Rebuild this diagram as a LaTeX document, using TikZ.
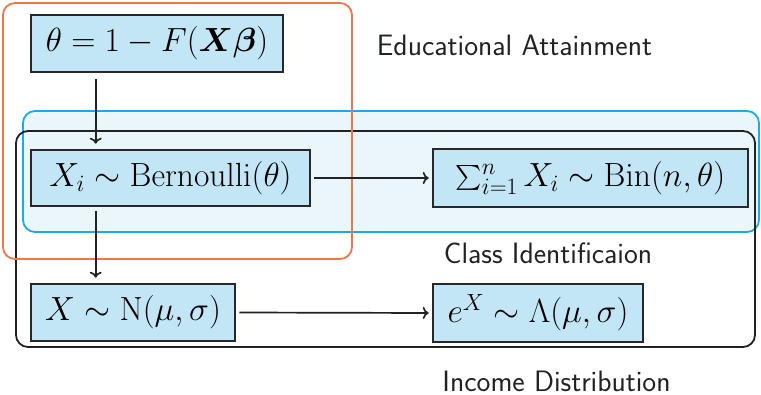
\RequirePackage{fix-cm}
\documentclass[tikz,border=0pt]{standalone}
\usepackage{amsmath,bm}
\usetikzlibrary{arrows.meta}
\definecolor{boxfill}{RGB}{194,230,245}
\definecolor{boxline}{RGB}{40,40,40}
\definecolor{regblue}{RGB}{30,170,230}
\definecolor{regbluefill}{RGB}{234,246,250}
\definecolor{regorange}{RGB}{240,120,72}
\definecolor{regblack}{RGB}{34,34,34}
\begin{document}
\begin{tikzpicture}[x=1pt,y=-1pt,
  dist/.style={draw=boxline, line width=2.6pt, fill=boxfill, inner sep=0pt,
    font=\fontsize{33.5}{40}\selectfont},
  conn/.style={line width=1.7pt, draw=regblack, -{To[length=6pt,width=12pt]}},
  region/.style={line width=1.8pt, rounded corners=12pt},
  lbl/.style={font=\sffamily\fontsize{29.5}{35}\selectfont, text=regblack, inner sep=0pt}]
\useasboundingbox (0,0) rectangle (761,395);
% regions
\draw[region, draw=regblue, fill=regbluefill] (23,111) rectangle (759,232);
\draw[region, draw=regblack] (16,131) rectangle (755,347);
\draw[region, draw=regorange] (3,3) rectangle (352,259);
% distribution boxes
\node[dist, minimum width=252pt, minimum height=57pt] (b1) at (157,43.5) {$\theta = 1 - F(\bm{X\beta})$};
\node[dist, minimum width=279pt, minimum height=56pt] (b2) at (170.5,178) {$X_i \sim \mathrm{Bernoulli}(\theta)$};
\node[dist, minimum width=315pt, minimum height=58pt] (b3) at (590.5,178) {$\sum_{i=1}^{n} X_i \sim \mathrm{Bin}(n,\theta)$};
\node[dist, minimum width=204pt, minimum height=57pt] (b4) at (133,312.5) {$X \sim \mathrm{N}(\mu,\sigma)$};
\node[dist, minimum width=210pt, minimum height=58pt] (b5) at (538,313) {$e^X \sim \Lambda(\mu,\sigma)$};
% labels
\node[lbl] (l1) at (514.5,45) {Educational Attainment};
\node[lbl] (l2) at (548,253) {Class Identificaion};
\node[lbl] (l3) at (556.5,381) {Income Distribution};
% connectors
\draw[conn] ([xshift=66pt,yshift=-6pt]b1.south west) -- ([xshift=66pt,yshift=5pt]b2.north west);
\draw[conn] ([xshift=66pt,yshift=-4pt]b2.south west) -- ([xshift=66pt,yshift=5pt]b4.north west);
\draw[conn] ([xshift=3pt]b2.east) -- ([xshift=-3pt]b3.west);
\draw[conn] ([xshift=3pt]b4.east) -- ([xshift=-3pt]b5.west);
\end{tikzpicture}
\end{document}
